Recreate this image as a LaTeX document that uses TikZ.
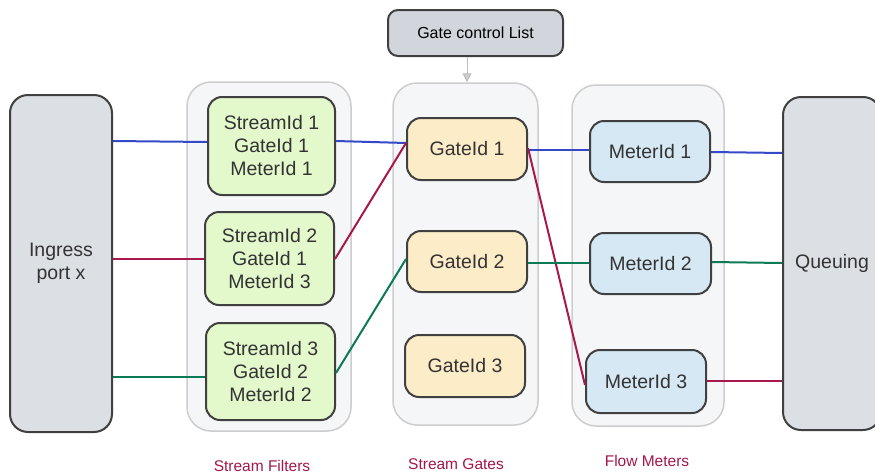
\documentclass[tikz,border=0pt]{standalone}
\usepackage{fontspec}
\setmainfont{Liberation Sans}
\usetikzlibrary{arrows.meta}
\definecolor{inkdark}{HTML}{404040}
\definecolor{txtdark}{HTML}{333333}
\definecolor{portgray}{HTML}{DCDFE3}
\definecolor{gclgray}{HTML}{D2D6DC}
\definecolor{grpfill}{HTML}{F5F6F8}
\definecolor{grpline}{HTML}{CDCDCD}
\definecolor{sfgreen}{HTML}{E3F8CB}
\definecolor{gateyel}{HTML}{FCEDC8}
\definecolor{meterblue}{HTML}{D5E8F4}
\definecolor{lnblue}{HTML}{3548C8}
\definecolor{lnred}{HTML}{A8184C}
\definecolor{lngreen}{HTML}{0B7A55}
\definecolor{captred}{HTML}{A3164A}
\tikzset{
  box/.style={draw=inkdark, line width=2pt, rounded corners=14pt, align=center,
    text=txtdark, font=\fontsize{19.5}{23}\selectfont, inner sep=0pt},
  sfbox/.style={box, fill=sfgreen},
  gatebox/.style={box, fill=gateyel},
  meterbox/.style={box, fill=meterblue},
  portbox/.style={box, fill=portgray, rounded corners=18pt},
  group/.style={draw=grpline, fill=grpfill, line width=1.5pt, rounded corners=24pt},
  caption/.style={text=captred, font=\fontsize{15.5}{18}\selectfont},
  link/.style={line width=2pt},
}
\begin{document}
\begin{tikzpicture}[x=1pt,y=-1pt]
\useasboundingbox (0,0) rectangle (875,474);

% column backgrounds
\node[group, minimum width=164pt, minimum height=349pt] (sfgrp) at (269,256.5) {};
\node[group, minimum width=145pt, minimum height=342pt] (sggrp) at (465.5,254) {};
\node[group, minimum width=152pt, minimum height=341pt] (fmgrp) at (648,255.5) {};

% ports
\node[portbox, minimum width=102pt, minimum height=337pt] (ingress) at (61,263.5) {Ingress\\port x};
\node[portbox, minimum width=98pt, minimum height=333pt] (queue) at (832,263.5) {Queuing};

% gate control list
\node[box, fill=gclgray, rounded corners=10pt, minimum width=175pt, minimum height=46pt,
  font=\fontsize{16}{18}\selectfont, text=black] (gcl) at (475.5,33) {Gate control List};
\draw[grpline!80!gray, line width=1pt, -{Triangle[open, length=9pt, width=9pt, fill=grpline]}]
  (gcl.south -| 467,0) -- (sggrp.north -| 467,0);

% stream filters
\node[sfbox, minimum width=127pt, minimum height=98pt] (sf1) at (271.5,146) {StreamId 1\\GateId 1\\MeterId 1};
\node[sfbox, minimum width=129pt, minimum height=93pt] (sf2) at (269.5,258.5) {StreamId 2\\GateId 1\\MeterId 3};
\node[sfbox, minimum width=129pt, minimum height=97pt] (sf3) at (270.5,371.5) {StreamId 3\\GateId 2\\MeterId 2};

% stream gates
\node[gatebox, minimum width=120pt, minimum height=62pt] (g1) at (467,149) {GateId 1};
\node[gatebox, minimum width=120pt, minimum height=61pt] (g2) at (467,261.5) {GateId 2};
\node[gatebox, minimum width=120pt, minimum height=62pt] (g3) at (465,366) {GateId 3};

% flow meters
\node[meterbox, minimum width=120pt, minimum height=61pt] (m1) at (650,151.5) {MeterId 1};
\node[meterbox, minimum width=121pt, minimum height=61pt] (m2) at (650.5,263.5) {MeterId 2};
\node[meterbox, minimum width=120pt, minimum height=63pt] (m3) at (646,381.5) {MeterId 3};

% stream 1 (blue)
\draw[link, lnblue] (ingress.east |- 0,141) -- (sf1.west |- 0,142);
\draw[link, lnblue] (sf1.east |- 0,141) -- (g1.west |- 0,143);
\draw[link, lnblue] (g1.east |- 0,150) -- (m1.west |- 0,150);
\draw[link, lnblue] (m1.east |- 0,152) -- (queue.west |- 0,153);

% stream 2 (crimson)
\draw[link, lnred] (ingress.east |- 0,259) -- (sf2.west |- 0,259);
\draw[link, lnred] (sf2.east |- 0,259) -- (g1.west |- 0,143);
\draw[link, lnred] (g1.east |- 0,148) -- (m3.west |- 0,385);
\draw[link, lnred] (m3.east |- 0,381) -- (queue.west |- 0,381);

% stream 3 (green)
\draw[link, lngreen] (ingress.east |- 0,377) -- (sf3.west |- 0,377);
\draw[link, lngreen] (sf3.east |- 0,373) -- (g2.west |- 0,259);
\draw[link, lngreen] (g2.east |- 0,263) -- (m2.west |- 0,263);
\draw[link, lngreen] (m2.east |- 0,262) -- (queue.west |- 0,263);

% column captions
\node[caption] (capsf) at (262,466) {Stream Filters};
\node[caption] (capsg) at (456,464) {Stream Gates};
\node[caption] (capfm) at (647,461) {Flow Meters};
\end{tikzpicture}
\end{document}
